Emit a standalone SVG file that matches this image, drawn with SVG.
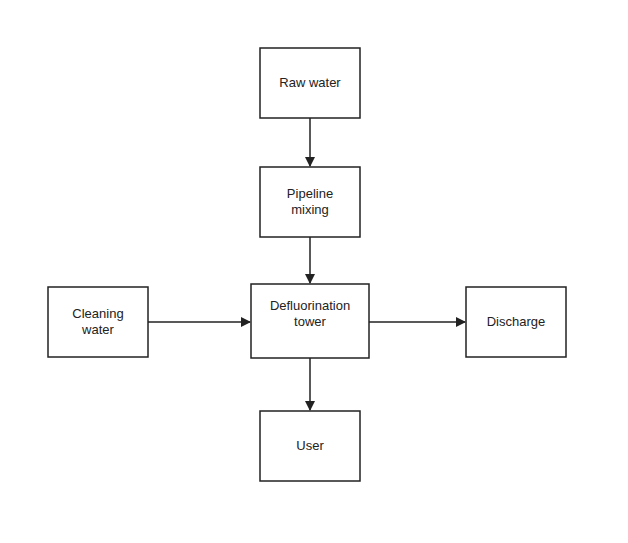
<svg xmlns="http://www.w3.org/2000/svg" width="628" height="543" viewBox="0 0 628 543">
<style>
.b{fill:#fff;stroke:#222;stroke-width:1.5}
.t{font-family:"Liberation Sans",Arial,sans-serif;font-size:13px;fill:#222;text-anchor:middle}
.c{stroke:#222;stroke-width:1.5;fill:none;marker-end:url(#a)}
</style>
<defs><marker id="a" markerWidth="10" markerHeight="10" refX="9" refY="5" orient="auto" markerUnits="userSpaceOnUse"><path d="M0,0 L10,5 L0,10 Z" fill="#222"/></marker></defs>
<rect width="628" height="543" fill="#fff"/>
<g id="connectors">
<line class="c" x1="310" y1="118" x2="310" y2="166"/>
<line class="c" x1="310" y1="237" x2="310" y2="283"/>
<line class="c" x1="148" y1="322" x2="250" y2="322"/>
<line class="c" x1="369" y1="322" x2="465" y2="322"/>
<line class="c" x1="310" y1="358" x2="310" y2="410"/>
</g>
<g id="raw"><rect class="b" x="260" y="48" width="100" height="70"/><text class="t" x="310" y="87">Raw water</text></g>
<g id="pipe"><rect class="b" x="260" y="167" width="100" height="70"/><text class="t" x="310" y="198">Pipeline</text><text class="t" x="310" y="214">mixing</text></g>
<g id="tower"><rect class="b" x="251" y="284" width="118" height="74"/><text class="t" x="310" y="310">Defluorination</text><text class="t" x="310" y="326">tower</text></g>
<g id="clean"><rect class="b" x="48" y="287" width="100" height="70"/><text class="t" x="98" y="318">Cleaning</text><text class="t" x="98" y="334">water</text></g>
<g id="discharge"><rect class="b" x="466" y="287" width="100" height="70"/><text class="t" x="516" y="326">Discharge</text></g>
<g id="user"><rect class="b" x="260" y="411" width="100" height="70"/><text class="t" x="310" y="450">User</text></g>
</svg>
